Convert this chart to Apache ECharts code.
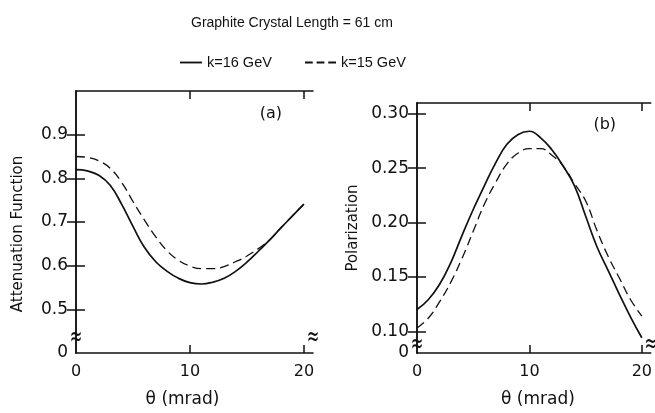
<!DOCTYPE html>
<html>
<head>
<meta charset="utf-8">
<script src="https://cdn.jsdelivr.net/npm/echarts@6/dist/echarts.min.js"></script>
<style>
  html, body { margin: 0; padding: 0; background: #fff; }
  #chart { width: 655px; height: 413px; }
</style>
</head>
<body>
<div id="chart"></div>
<script>
// theta (mrad) sampling, shared by all curves
const theta = [0, 1, 2, 3, 4, 5, 6, 7, 8, 9, 10, 11, 12, 13, 14, 15, 16, 17, 18, 19, 20];

// (a) attenuation function
const attenK16 = [0.820, 0.817, 0.807, 0.784, 0.741, 0.690, 0.642, 0.609, 0.587, 0.571, 0.561,
                  0.558, 0.562, 0.571, 0.587, 0.608, 0.633, 0.659, 0.687, 0.714, 0.741];
const attenK15 = [0.850, 0.848, 0.840, 0.823, 0.791, 0.747, 0.705, 0.666, 0.634, 0.612, 0.599,
                  0.593, 0.593, 0.598, 0.609, 0.622, 0.639, 0.659, 0.687, 0.714, 0.741];

// (b) polarization
const polK16 = [0.120, 0.129, 0.143, 0.163, 0.188, 0.212, 0.234, 0.255, 0.272, 0.281, 0.284,
                0.278, 0.267, 0.252, 0.234, 0.206, 0.178, 0.156, 0.134, 0.113, 0.094];
const polK15 = [0.103, 0.112, 0.127, 0.145, 0.167, 0.192, 0.217, 0.237, 0.254, 0.264, 0.268,
                0.268, 0.262, 0.252, 0.236, 0.220, 0.193, 0.169, 0.149, 0.129, 0.114];

// tick labels
const xTicks = [0, 10, 20];
const attenTicks = [0.4, 0.5, 0.6, 0.7, 0.8, 0.9];   // 0.4 is the broken-axis "0"
const polTicks = [0.08, 0.10, 0.15, 0.20, 0.25, 0.30]; // 0.08 is the broken-axis "0"

const FONT = 'DejaVu Sans';
const TFONT = 'Liberation Sans';
const INK = '#111';

const zip = (xs, ys) => xs.map((x, i) => [x, ys[i]]);

const chart = echarts.init(document.getElementById('chart'));

function xAxes(grid, namePad) {
  return [
    {
      gridIndex: grid, type: 'value', min: 0, max: 20.8, position: 'bottom',
      axisLine: { lineStyle: { color: INK, width: 1.5 } },
      axisTick: { inside: true, length: 8, customValues: [10, 20], lineStyle: { color: INK, width: 1.5 } },
      axisLabel: { customValues: xTicks, color: INK, fontFamily: FONT, fontSize: 16, margin: 11 },
      splitLine: { show: false },
      name: 'θ (mrad)', nameLocation: 'middle', nameGap: 38,
      nameTextStyle: { color: INK, fontFamily: FONT, fontSize: 17, padding: namePad }
    },
    {
      gridIndex: grid, type: 'value', min: 0, max: 20.8, position: 'top',
      axisLine: { lineStyle: { color: INK, width: 1.5 } },
      axisTick: { inside: true, length: 8, customValues: [10, 20], lineStyle: { color: INK, width: 1.5 } },
      axisLabel: { show: false },
      splitLine: { show: false }
    }
  ];
}

function yAxes(grid, min, max, labels, tickVals, name, gap, digits, namePad) {
  return [
    {
      gridIndex: grid, type: 'value', min: min, max: max, position: 'left',
      axisLine: { show: true, lineStyle: { color: INK, width: 1.5 } },
      axisTick: { show: true, inside: true, length: 9, customValues: tickVals, lineStyle: { color: INK, width: 1.5 } },
      axisLabel: {
        customValues: labels, color: INK, fontFamily: FONT, fontSize: 17, margin: 8,
        formatter: v => (Math.abs(v - min) < 1e-6 ? '0' : v.toFixed(digits))
      },
      splitLine: { show: false },
      name: name, nameLocation: 'middle', nameGap: gap,
      nameTextStyle: { color: INK, fontFamily: FONT, fontSize: 15, padding: namePad }
    },
    {
      gridIndex: grid, type: 'value', min: min, max: max, position: 'right',
      axisLine: { show: true, lineStyle: { color: INK, width: 1.5 } },
      axisTick: { show: true, inside: true, length: 9, customValues: tickVals, lineStyle: { color: INK, width: 1.5 } },
      axisLabel: { show: false },
      splitLine: { show: false }
    }
  ];
}

function curve(name, xi, yi, data, dashed) {
  return {
    name: name, type: 'line', xAxisIndex: xi, yAxisIndex: yi,
    data: data, smooth: 0.45, symbol: 'none', silent: true,
    lineStyle: { color: INK, width: dashed ? 1.3 : 1.7, type: dashed ? [9, 5] : 'solid' },
    itemStyle: { color: INK }
  };
}

const legendText = { color: INK, fontFamily: TFONT, fontSize: 14.5 };

chart.setOption({
  animation: false,
  backgroundColor: '#fff',
  title: {
    text: 'Graphite Crystal Length = 61 cm',
    left: 186, top: 11,
    textStyle: { color: INK, fontFamily: TFONT, fontSize: 14, fontWeight: 'normal' }
  },
  legend: [
    {
      top: 50, left: 175, itemWidth: 22, itemHeight: 2, itemGap: 0,
      data: [{ name: 'k=16 GeV', icon: 'path://M0,0H24V2H0Z' }],
      itemStyle: { color: INK }, textStyle: legendText
    },
    {
      top: 50, left: 300, itemWidth: 31, itemHeight: 2, itemGap: 0,
      data: [{ name: 'k=15 GeV', icon: 'path://M0,0H8V2H0Z M12,0H20V2H12Z M24,0H32V2H24Z' }],
      itemStyle: { color: INK }, textStyle: legendText
    }
  ],
  grid: [
    { left: 76, top: 91, width: 237, height: 266, containLabel: false },
    { left: 417, top: 103, width: 236, height: 254, containLabel: false }
  ],
  xAxis: [...xAxes(0, [0, 24, 0, 0]), ...xAxes(1, [0, 0, 0, 8])],
  yAxis: [
    ...yAxes(0, 0.4, 1.0, attenTicks, [0.5, 0.6, 0.7, 0.8, 0.9], 'Attenuation Function', 50, 1, [0, 24, 0, 0]),
    ...yAxes(1, 0.08, 0.31, polTicks, [0.10, 0.15, 0.20, 0.25, 0.30], 'Polarization', 56, 2, 0)
  ],
  series: [
    curve('k=16 GeV', 0, 0, zip(theta, attenK16), false),
    curve('k=15 GeV', 0, 0, zip(theta, attenK15), true),
    curve('k=16 GeV', 2, 2, zip(theta, polK16), false),
    curve('k=15 GeV', 2, 2, zip(theta, polK15), true)
  ]
});

// panel tags and axis-break marks, placed through the axes
function at(grid, x, y) {
  return chart.convertToPixel({ gridIndex: grid }, [x, y]);
}
function brk(p) {
  return {
    type: 'text', x: p[0], y: p[1], scaleY: 1.8,
    style: { text: '≈', fill: INK, font: '15px ' + FONT, align: 'center', verticalAlign: 'middle', backgroundColor: '#fff' }
  };
}
function tag(p, t) {
  return {
    type: 'text', x: p[0], y: p[1],
    style: { text: t, fill: INK, font: '16px ' + FONT, align: 'center', verticalAlign: 'middle' }
  };
}
chart.setOption({
  graphic: [
    tag(at(0, 17.1, 0.947), '(a)'),
    tag(at(1, 16.7, 0.2895), '(b)'),
    brk(at(0, 0, 0.434)),
    brk(at(0, 20.8, 0.434)),
    brk(at(1, 0, 0.087)),
    brk(at(1, 20.8, 0.087))
  ]
});
</script>
</body>
</html>
